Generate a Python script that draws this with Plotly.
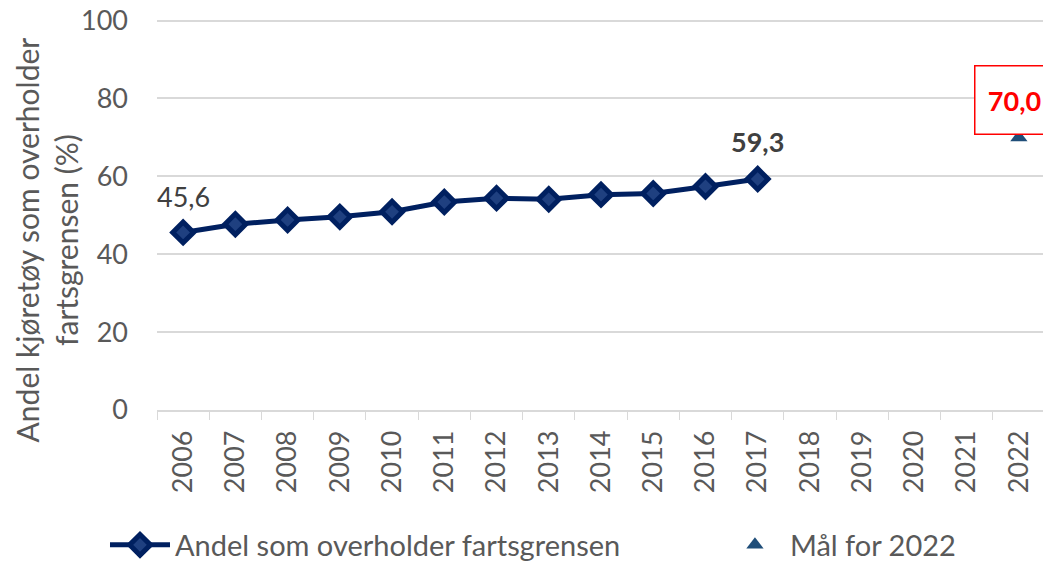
import plotly.graph_objects as go

years = [str(y) for y in range(2006, 2023)]
andel = [45.6, 47.7, 48.8, 49.6, 50.9, 53.4, 54.4, 54.1, 55.3, 55.6, 57.4, 59.3,
         None, None, None, None, None]
maal = [None] * 16 + [70.0]
yticks = [0, 20, 40, 60, 80, 100]

FONT = "Lato, 'Open Sans', sans-serif"
GRAY = "#595959"

def fmt(v):
    return f"{v:.1f}".replace(".", ",")

fig = go.Figure()
fig.add_trace(go.Scatter(
    x=years, y=andel, mode="lines+markers", name="Andel som overholder fartsgrensen",
    line=dict(color="#002060", width=5),
    marker=dict(symbol="diamond", size=16, color="#1f4080",
                line=dict(color="#002060", width=5)),
    connectgaps=False, legend="legend",
))
fig.add_trace(go.Scatter(
    x=years, y=maal, mode="markers", name="Mål for 2022",
    marker=dict(symbol="triangle-up", size=15, color="#1f4e79"),
    legend="legend2",
))

i0 = 0
i1 = 11
i2 = 16
fig.add_annotation(x=i0, y=andel[i0], text=fmt(andel[i0]), showarrow=False,
                   yshift=36, font=dict(family=FONT, size=27, color="#404040"))
fig.add_annotation(x=i1, y=andel[i1], text="<b>" + fmt(andel[i1]) + "</b>",
                   showarrow=False, yshift=38,
                   font=dict(family=FONT, size=27, color="#404040"))
fig.add_annotation(x=i2, y=maal[i2], text="<b>" + fmt(maal[i2]) + "</b>",
                   showarrow=False, yshift=37, xshift=-4,
                   font=dict(family=FONT, size=27, color="#ff0000"),
                   bordercolor="#ff0000", borderwidth=1.5, bgcolor="white",
                   width=70, height=59, borderpad=4)
fig.add_annotation(xref="paper", yref="paper", x=-0.124, y=0.436,
                   text="Andel kjøretøy som overholder<br>fartsgrensen (%)",
                   textangle=-90, showarrow=False, xanchor="center", yanchor="middle",
                   font=dict(family=FONT, size=30, color=GRAY))

legend_common = dict(orientation="h", xref="container", yref="container",
                     xanchor="left", y=0.0289, yanchor="middle",
                     font=dict(family=FONT, size=29, color=GRAY),
                     itemwidth=60, bgcolor="rgba(0,0,0,0)")

fig.update_layout(
    width=1043, height=553,
    margin=dict(l=149, r=6, t=11, b=151, autoexpand=False),
    paper_bgcolor="white", plot_bgcolor="white",
    font=dict(family=FONT, size=27, color=GRAY),
    showlegend=True,
    legend=dict(x=0.093, **legend_common),
    legend2=dict(x=0.6826, **legend_common),
    xaxis=dict(
        type="category", categoryorder="array", categoryarray=years,
        tickangle=-90, showgrid=False, showline=True, linecolor="#d9d9d9", linewidth=1.5,
        ticks="outside", tickson="boundaries", ticklen=8, tickcolor="#d9d9d9",
        tickfont=dict(family=FONT, size=27, color=GRAY), automargin=False,
        ticklabelstandoff=8, range=[-0.5, 16.5], ticklabeloverflow="allow",
    ),
    yaxis=dict(
        range=[0, 100.4], tickvals=yticks, showgrid=True, gridcolor="#d9d9d9", gridwidth=1.5,
        zeroline=False, showline=False, ticks="", ticklabelstandoff=28,
        tickfont=dict(family=FONT, size=27, color=GRAY), automargin=False,
        ticklabeloverflow="allow",
    ),
)

fig.write_html("out.html")
